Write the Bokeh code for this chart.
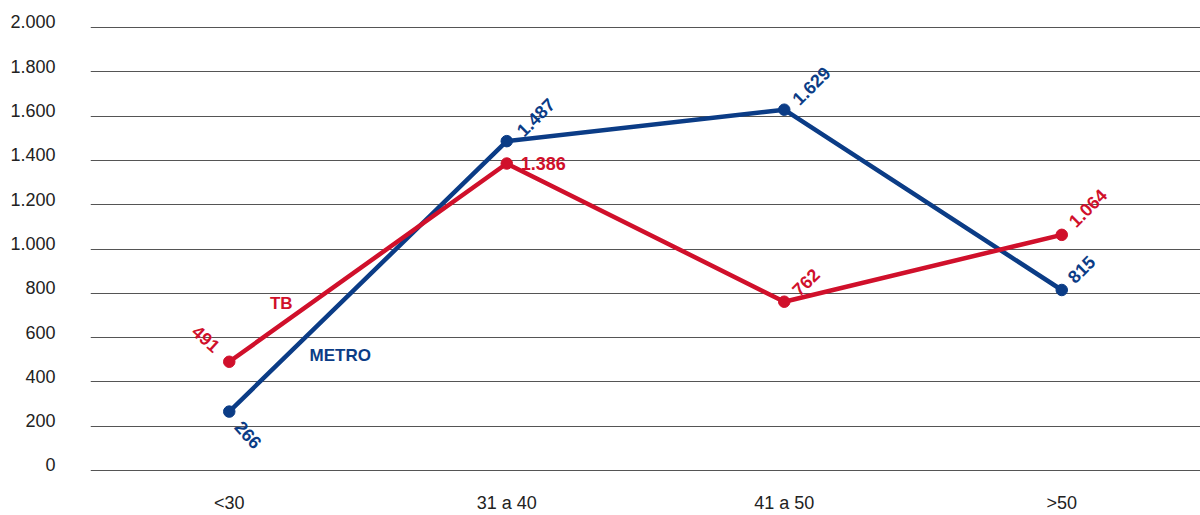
from bokeh.plotting import figure
from bokeh.models import (Range1d, LinearAxis, SingleIntervalTicker,
                          CustomJSTickFormatter, Grid)
from bokeh.core.properties import value
from bokeh.embed import file_html
from bokeh.resources import INLINE
import math

# --- data -------------------------------------------------------------
categories = ["<30", "31 a 40", "41 a 50", ">50"]
metro = [266, 1487, 1629, 815]
tb = [491, 1386, 762, 1064]
y_max = 2000
y_step = 200

# --- styling ----------------------------------------------------------
BLUE = "#0b3c86"
RED = "#d0102b"
TICK_TXT = "#222222"
FONT = "Liberation Sans"


def fmt(v):
    return f"{v:,}".replace(",", ".")


# per-point label placement: (dx, dy (screen, down +), angle deg, align, baseline)
metro_lbl = [(9, 12, -48, "left", "middle"),
             (13, -8, 45, "left", "middle"),
             (11, -8, 45, "left", "middle"),
             (9, -10, 45, "left", "middle")]
tb_lbl = [(-12, -13, -42, "right", "middle"),
          (14, 0, 0, "left", "middle"),
          (11, -9, 45, "left", "middle"),
          (10, -11, 45, "left", "middle")]

p = figure(x_range=categories, y_range=Range1d(-9, 2122),
           width=1200, height=515,
           output_backend="svg", toolbar_location=None,
           y_axis_location=None,
           min_border_left=90, min_border_right=0,
           min_border_top=0, min_border_bottom=0)
p.outline_line_color = None
p.background_fill_color = "white"
p.border_fill_color = "white"
for g in p.xgrid + p.ygrid:
    g.visible = False

# horizontal grid lines every 200
p.add_layout(Grid(dimension=1, ticker=SingleIntervalTicker(interval=y_step),
                  grid_line_color="#555555", grid_line_width=1,
                  minor_grid_line_color=None))

# y tick labels sit a little above their grid lines
p.extra_y_ranges = {"lab": Range1d(-34, 2097)}
yax = LinearAxis(y_range_name="lab",
                 ticker=SingleIntervalTicker(interval=y_step),
                 formatter=CustomJSTickFormatter(code="""
                     if (tick < 0 || tick > %d) return "";
                     return Math.round(tick).toString().replace(/\\B(?=(\\d{3})+(?!\\d))/g, ".");
                 """ % y_max))
yax.axis_line_color = None
yax.major_tick_line_color = None
yax.minor_tick_line_color = None
yax.major_tick_out = 0
yax.major_tick_in = 0
yax.minor_tick_out = 0
yax.major_label_standoff = 35
yax.major_label_text_font = FONT
yax.major_label_text_font_size = "18px"
yax.major_label_text_color = TICK_TXT
p.add_layout(yax, "left")

xax = p.xaxis[0]
xax.axis_line_color = None
xax.major_tick_line_color = None
xax.minor_tick_line_color = None
xax.major_tick_out = 0
xax.major_tick_in = 0
xax.minor_tick_out = 0
xax.major_label_standoff = 20
xax.major_label_text_font = FONT
xax.major_label_text_font_size = "18px"
xax.major_label_text_color = TICK_TXT

# series lines and markers
for vals, col in ((metro, BLUE), (tb, RED)):
    p.line(categories, vals, line_color=col, line_width=4.5,
           line_join="round", line_cap="round")
    p.scatter(categories, vals, size=11.5, fill_color=col, line_color=col)

# value labels
for vals, col, lbl in ((metro, BLUE, metro_lbl), (tb, RED, tb_lbl)):
    for c, v, (dx, dy, ang, al, bl) in zip(categories, vals, lbl):
        p.text(x=[c], y=[v], text=[fmt(v)], x_offset=dx, y_offset=dy,
               angle=math.radians(ang), text_align=al, text_baseline=bl,
               text_color=col, text_font=value(FONT), text_font_style="bold",
               text_font_size="18px")

# series names near the first category
p.text(x=[categories[0]], y=[tb[0]], text=["TB"], x_offset=52, y_offset=-58,
       text_align="center", text_baseline="middle", text_color=RED,
       text_font=value(FONT), text_font_style="bold", text_font_size="17px")
p.text(x=[categories[0]], y=[metro[0]], text=["METRO"], x_offset=111, y_offset=-56,
       text_align="center", text_baseline="middle", text_color=BLUE,
       text_font=value(FONT), text_font_style="bold", text_font_size="17px")

open("out.html", "w").write(file_html(p, INLINE))
